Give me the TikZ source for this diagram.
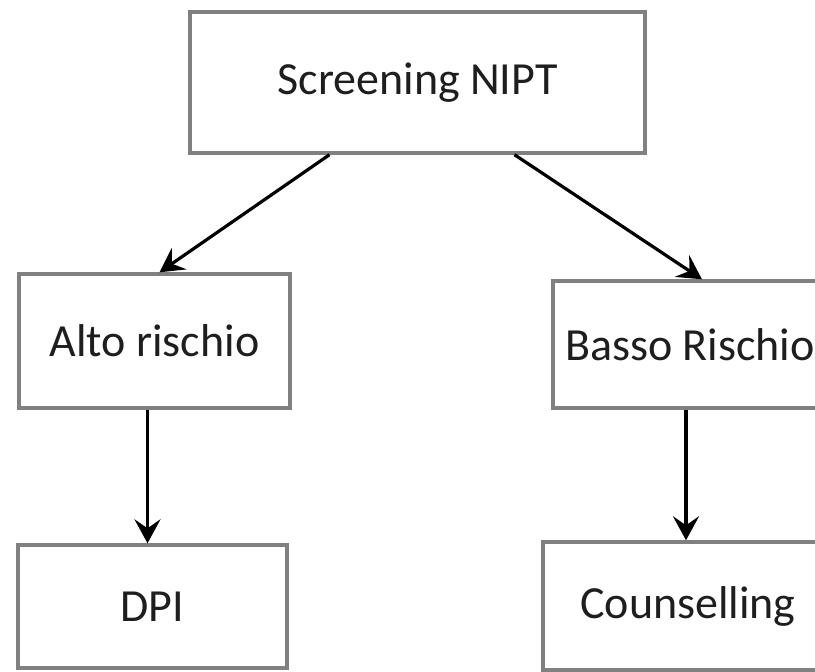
\documentclass[tikz,border=0pt]{standalone}
\usepackage{fontspec}
\setmainfont{Carlito}
\usetikzlibrary{arrows.meta}
\definecolor{boxgray}{RGB}{128,128,128}
\definecolor{textgray}{RGB}{30,30,30}

\begin{document}
\begin{tikzpicture}[x=1pt, y=-1pt,
	box/.style={draw=boxgray, line width=3.4pt, fill=white, text=textgray,
		font=\fontsize{46}{54}\selectfont, inner sep=0pt},
	link/.style={draw=black, line width=3.2pt,
		-{Stealth[length=24pt, width=26pt, inset=9pt]}}]
	% frame: 815 x 672, one unit = one pixel of the reference
	\clip (0,0) rectangle (815,672);
	\fill[white] (0,0) rectangle (815,672);
	% boxes
	\node[box, minimum width=455pt, minimum height=141pt] (nipt) at (417.5,82.5) {Screening NIPT};
	\node[box, minimum width=271pt, minimum height=134pt] (alto) at (154.5,341) {Alto rischio};
	\node[box, minimum width=274pt, minimum height=127pt] (basso) at (690,344.5) {Basso Rischio};
	\node[box, minimum width=269pt, minimum height=123pt] (dpi) at (152.5,606.5) {DPI};
	\node[box, minimum width=290pt, minimum height=128pt] (couns) at (688,606) {Counselling};
	% arrows
	\draw[link] ([xshift=-88pt]nipt.south) -- ([xshift=5pt]alto.north);
	\draw[link] ([xshift=97pt]nipt.south) -- ([xshift=12pt]basso.north);
	\draw[link] ([xshift=-7pt]alto.south) -- ([xshift=-5pt]dpi.north);
	\draw[link] ([xshift=-4pt]basso.south) -- ([xshift=-2pt]couns.north);
\end{tikzpicture}
\end{document}
